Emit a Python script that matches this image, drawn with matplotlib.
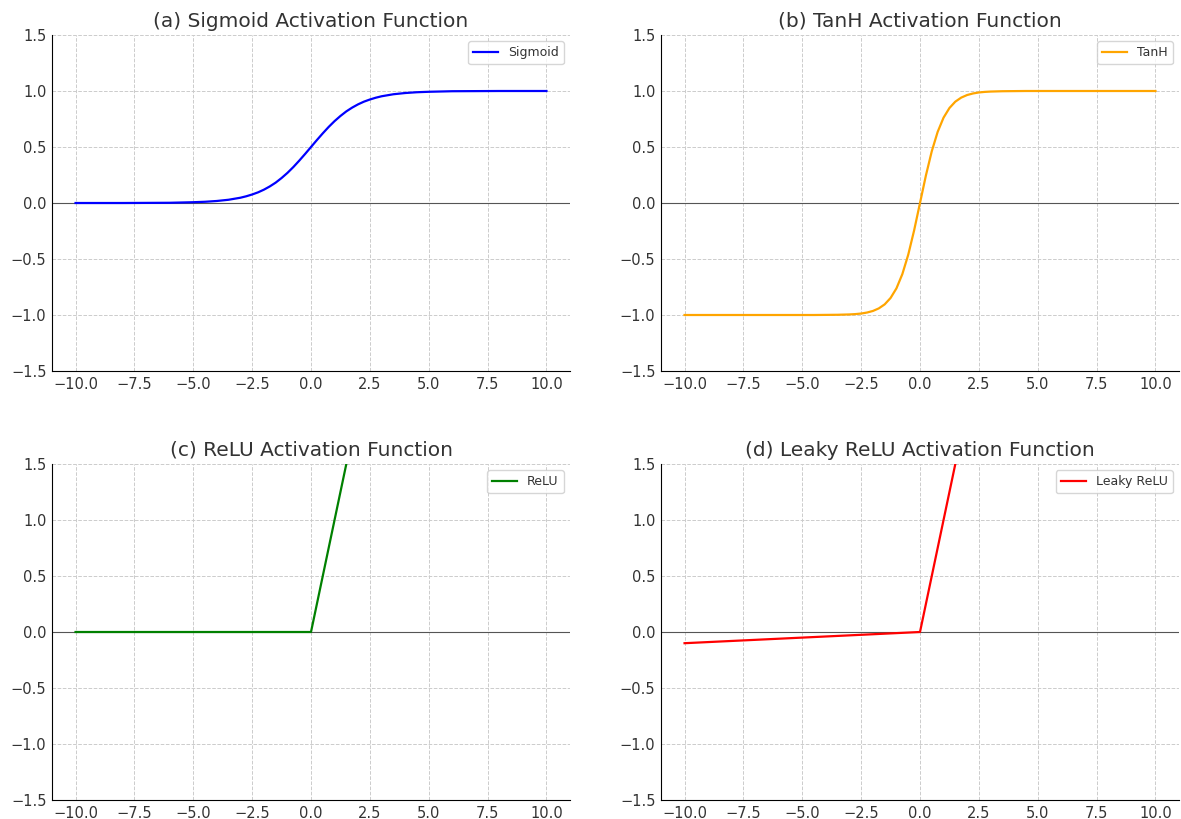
import matplotlib
matplotlib.use("Agg")
import matplotlib.pyplot as plt

# Sample positions
x_vals = [-10, -9, -8, -7, -6, -5, -4.5, -4, -3.5,
          -3, -2.75, -2.5, -2.25, -2, -1.75, -1.5, -1.25, -1, -0.75, -0.5, -0.25,
          0, 0.25, 0.5, 0.75, 1, 1.25, 1.5, 1.75, 2, 2.25, 2.5, 2.75, 3,
          3.5, 4, 4.5, 5, 6, 7, 8, 9, 10]

sigmoid_vals = [0.000, 0.000, 0.000, 0.001, 0.002, 0.007, 0.011, 0.018, 0.029,
                0.047, 0.060, 0.076, 0.095, 0.119, 0.148, 0.182, 0.223, 0.269, 0.321, 0.378, 0.438,
                0.500, 0.562, 0.622, 0.679, 0.731, 0.777, 0.818, 0.852, 0.881, 0.905, 0.924, 0.940, 0.953,
                0.971, 0.982, 0.989, 0.993, 0.998, 0.999, 1.000, 1.000, 1.000]

tanh_vals = [-1.000, -1.000, -1.000, -1.000, -1.000, -1.000, -1.000, -0.999, -0.998,
             -0.995, -0.992, -0.987, -0.978, -0.964, -0.941, -0.905, -0.848, -0.762, -0.635, -0.462, -0.245,
             0.000, 0.245, 0.462, 0.635, 0.762, 0.848, 0.905, 0.941, 0.964, 0.978, 0.987, 0.992, 0.995,
             0.998, 0.999, 1.000, 1.000, 1.000, 1.000, 1.000, 1.000, 1.000]

relu_x = [-10, 0, 10]
relu_vals = [0.0, 0.0, 10.0]
leaky_vals = [-0.1, 0.0, 10.0]

titles = ["(a) Sigmoid Activation Function", "(b) TanH Activation Function",
          "(c) ReLU Activation Function", "(d) Leaky ReLU Activation Function"]
labels = ["Sigmoid", "TanH", "ReLU", "Leaky ReLU"]
colors = ["blue", "orange", "green", "red"]
series = [(x_vals, sigmoid_vals), (x_vals, tanh_vals), (relu_x, relu_vals), (relu_x, leaky_vals)]

W, H = 1181, 819
fig = plt.figure(figsize=(W / 100, H / 100), dpi=100)
boxes = [(52, 35), (661, 35), (52, 464), (661, 464)]
aw, ah = 518, 336

text_col = "#333333"
for (px, py), title, lab, col, (xs, ys) in zip(boxes, titles, labels, colors, series):
    ax = fig.add_axes([px / W, 1 - (py + ah) / H, aw / W, ah / H])
    ax.plot(xs, ys, color=col, lw=1.6, label=lab)
    ax.axhline(0, color="#555555", lw=0.8, zorder=1)
    ax.set_xlim(-11, 11)
    ax.set_ylim(-1.5, 1.5)
    ax.set_xticks([-10, -7.5, -5, -2.5, 0, 2.5, 5, 7.5, 10])
    ax.set_yticks([-1.5, -1.0, -0.5, 0.0, 0.5, 1.0, 1.5])
    ax.grid(True, linestyle="--", color="#cccccc", lw=0.7)
    ax.set_axisbelow(True)
    for s in ("top", "right"):
        ax.spines[s].set_visible(False)
    ax.tick_params(labelsize=10.5, colors=text_col, length=0, pad=4)
    ax.set_title(title, fontsize=14.5, color=text_col, pad=6)
    leg = ax.legend(loc="upper right", fontsize=9, frameon=True)
    for t in leg.get_texts():
        t.set_color(text_col)
    leg.get_frame().set_edgecolor("#cccccc")

fig.savefig("out.png", dpi=100)
